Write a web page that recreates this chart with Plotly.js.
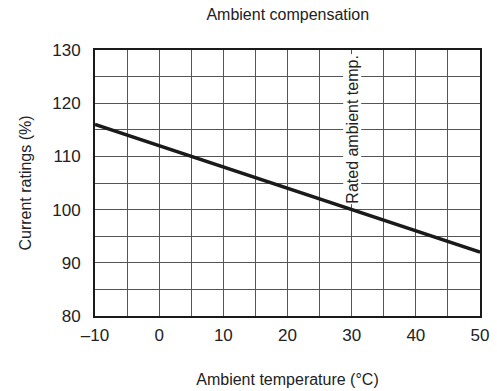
<!DOCTYPE html>
<html><head><meta charset="utf-8">
<script src="https://cdn.plot.ly/plotly-3.0.1.min.js"></script>
<style>html,body{margin:0;padding:0;background:#fff}</style>
</head><body><div id="chart" style="width:497px;height:391px"></div>
<script>
const temps = [-10, 50];
const ratings = [116, 92];
const xTicks = [-10, 0, 10, 20, 30, 40, 50];
const yTicks = [80, 90, 100, 110, 120, 130];
const ratedTemp = 30;
const ratedLabel = "Rated ambient temp.";

const fontFam = "Liberation Sans, Arial, sans-serif";
Plotly.newPlot('chart', [{
  x: temps, y: ratings, type: 'scatter', mode: 'lines',
  line: {color: '#1a1a1a', width: 3.4}, hoverinfo: 'skip'
}], {
  width: 497, height: 391,
  margin: {l: 95, r: 17, t: 50, b: 75},
  paper_bgcolor: '#fff', plot_bgcolor: '#fff',
  showlegend: false,
  font: {family: fontFam, color: '#222'},
  title: {text: 'Ambient compensation', font: {size: 16, family: fontFam}, x: 0.579, xanchor: 'center', y: 0.963, yanchor: 'middle'},
  xaxis: {
    range: [-10, 50], tickvals: xTicks, ticktext: xTicks.map(v => v < 0 ? '\u2013' + Math.abs(v) : String(v)),
    showgrid: true, gridcolor: '#555', gridwidth: 1,
    minor: {dtick: 5, tick0: -10, showgrid: true, gridcolor: '#555', gridwidth: 1},
    showline: true, linecolor: '#1a1a1a', linewidth: 2, mirror: true,
    zeroline: false, ticks: '', tickfont: {size: 17}, ticklabelstandoff: 3,
    title: {text: 'Ambient temperature (°C)', font: {size: 16}, standoff: 29}
  },
  yaxis: {
    range: [80, 130], tickvals: yTicks,
    showgrid: true, gridcolor: '#555', gridwidth: 1,
    minor: {dtick: 5, tick0: 80, showgrid: true, gridcolor: '#555', gridwidth: 1},
    showline: true, linecolor: '#1a1a1a', linewidth: 2, mirror: true,
    zeroline: false, ticks: '', tickfont: {size: 17}, ticklabelstandoff: 9,
    title: {text: 'Current ratings (%)', font: {size: 16}, standoff: 17}
  },
  annotations: [{
    x: ratedTemp, y: 115.15, xref: 'x', yref: 'y', text: ratedLabel, textangle: -90,
    showarrow: false, bgcolor: '#fff', font: {size: 16, family: fontFam, color: '#222'},
    xanchor: 'center', yanchor: 'middle', borderpad: 0
  }]
}, {staticPlot: true});
</script></body></html>
